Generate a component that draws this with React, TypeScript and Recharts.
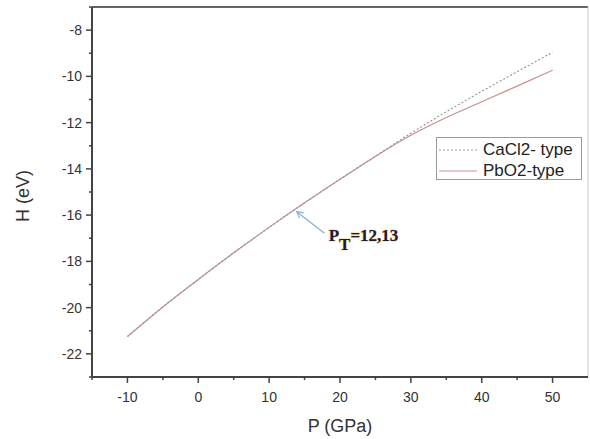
import React from 'react';
import {
  LineChart,
  Line,
  XAxis,
  YAxis,
  Legend,
  ReferenceLine,
  ReferenceDot,
} from 'recharts';

// pressure (GPa)
const pressure = [-10, -5, 0, 5, 10, 15, 20, 25, 30, 35, 40, 45, 50];
// enthalpy (eV)
const cacl2 = [-21.25, -19.97, -18.78, -17.63, -16.53, -15.47, -14.45, -13.45, -12.46, -11.53, -10.65, -9.8, -8.96];
const pbo2 = [-21.25, -19.97, -18.78, -17.63, -16.53, -15.47, -14.45, -13.46, -12.55, -11.78, -11.1, -10.42, -9.73];

const xTicks = [-15, -10, -5, 0, 5, 10, 15, 20, 25, 30, 35, 40, 45, 50];
const yTicks = [-23, -22, -21, -20, -19, -18, -17, -16, -15, -14, -13, -12, -11, -10, -9, -8, -7];

const seriesNames = ['CaCl2- type', 'PbO2-type'];

// arrow pointing at the transition pressure
const arrowTail = { x: 17.8, y: -16.78 };
const arrowTip = { x: 13.9, y: -15.85 };
const noteAt = { x: 18.4, y: -17.14 };

const data = pressure.map((p, i) => ({ p, cacl2: cacl2[i], pbo2: pbo2[i] }));

const FONT = '"Liberation Sans", Arial, sans-serif';
const AXIS = '#444';

const XTick = (props: any) => {
  const { x, y, payload } = props;
  const major = payload.value % 10 === 0;
  return (
    <g>
      <line x1={x} y1={y} x2={x} y2={y + (major ? 6 : 3)} stroke={AXIS} strokeWidth={1.5} />
      {major && (
        <text x={x} y={y + 20} textAnchor="middle" dominantBaseline="central"
          fontFamily={FONT} fontSize={14} fill="#333">
          {payload.value}
        </text>
      )}
    </g>
  );
};

const YTick = (props: any) => {
  const { x, y, payload } = props;
  const major = payload.value % 2 === 0;
  return (
    <g>
      <line x1={x} y1={y} x2={x - (major ? 6 : 3)} y2={y} stroke={AXIS} strokeWidth={1.5} />
      {major && (
        <text x={x - 10} y={y} textAnchor="end" dominantBaseline="central"
          fontFamily={FONT} fontSize={14} fill="#333">
          {payload.value}
        </text>
      )}
    </g>
  );
};

const Arrow = (props: any) => {
  const { x1, y1, x2, y2 } = props;
  const ang = Math.atan2(y2 - y1, x2 - x1);
  const len = 7;
  const a1 = ang + Math.PI - 0.5;
  const a2 = ang + Math.PI + 0.5;
  return (
    <g stroke="#8fb1d3" strokeWidth={1.3} fill="none">
      <line x1={x1} y1={y1} x2={x2} y2={y2} />
      <polyline
        points={`${x2 + len * Math.cos(a1)},${y2 + len * Math.sin(a1)} ${x2},${y2} ${x2 + len * Math.cos(a2)},${y2 + len * Math.sin(a2)}`}
      />
    </g>
  );
};

const Note = (props: any) => {
  const { cx, cy } = props;
  return (
    <text x={cx} y={cy} fontFamily='"Liberation Serif", "Times New Roman", serif'
      fontWeight="bold" fontSize={17} fill="#1c1c3a" stroke="#e8a33c"
      strokeWidth={0.7} paintOrder="stroke">
      P
      <tspan dy={9}>T</tspan>
      <tspan dy={-9}>=12,13</tspan>
    </text>
  );
};

const LegendBox = () => (
  <div style={{ border: '1px solid #9a9a9a', background: '#fff', width: 146, height: 43, boxSizing: 'border-box', position: 'relative', fontFamily: FONT, fontSize: 17, color: '#222' }}>
    {seriesNames.map((name, i) => (
      <div key={name} style={{ position: 'absolute', left: 0, top: 2 + i * 21, height: 20, display: 'flex', alignItems: 'center' }}>
        <svg width={46} height={20}>
          <line x1={2} y1={10} x2={40} y2={10}
            stroke={i === 0 ? '#999' : '#c98f8f'} strokeWidth={1}
            strokeDasharray={i === 0 ? '2 2' : undefined} />
        </svg>
        <span style={{ lineHeight: '20px' }}>{name}</span>
      </div>
    ))}
  </div>
);

export default function App() {
  return (
    <div style={{ position: 'absolute', left: 0, top: 0, width: 590, height: 439, background: '#fff' }}>
      <LineChart width={590} height={439} data={data}
        margin={{ top: 7, right: 2, bottom: 0, left: 0 }}>
        <XAxis dataKey="p" type="number" domain={[-15, 55]} ticks={xTicks} interval={0}
          height={62} tickSize={0} tickMargin={0} tickLine={false} tick={<XTick />}
          axisLine={{ stroke: AXIS, strokeWidth: 2 }}
          label={{ content: (p: any) => (
            <text x={p.viewBox.x + p.viewBox.width / 2} y={p.viewBox.y + 49}
              textAnchor="middle" dominantBaseline="central" fontFamily={FONT}
              fontSize={18} fill="#333">P (GPa)</text>
          ) }} />
        <YAxis type="number" domain={[-23, -7]} ticks={yTicks} interval={0}
          width={92} tickSize={0} tickMargin={0} tickLine={false} tick={<YTick />}
          axisLine={{ stroke: AXIS, strokeWidth: 2 }}
          label={{ content: (p: any) => {
            const cx = 23;
            const cy = p.viewBox.y + p.viewBox.height / 2 + 4;
            return (
              <text x={cx} y={cy} transform={`rotate(-90 ${cx} ${cy})`}
                textAnchor="middle" dominantBaseline="central" fontFamily={FONT}
                fontSize={18} fill="#333">H (eV)</text>
            );
          } }} />
        <ReferenceLine y={-7} stroke="#666" strokeWidth={2} />
        <ReferenceLine x={55} stroke="#c8c8c8" strokeWidth={1} />
        <Line dataKey="pbo2" name={seriesNames[1]} type="monotone" stroke="#c98f8f"
          strokeWidth={1.2} dot={false} isAnimationActive={false} />
        <Line dataKey="cacl2" name={seriesNames[0]} type="monotone" stroke="#999"
          strokeWidth={1.2} strokeDasharray="2 2" dot={false} isAnimationActive={false} />
        <ReferenceLine segment={[arrowTail, arrowTip]} shape={<Arrow />} />
        <ReferenceDot x={noteAt.x} y={noteAt.y} r={0} shape={<Note />} />
        <Legend layout="vertical" align="center" verticalAlign="middle"
          content={<LegendBox />}
          wrapperStyle={{ position: 'absolute', left: 436, top: 137, width: 148, height: 45 }} />
      </LineChart>
    </div>
  );
}
